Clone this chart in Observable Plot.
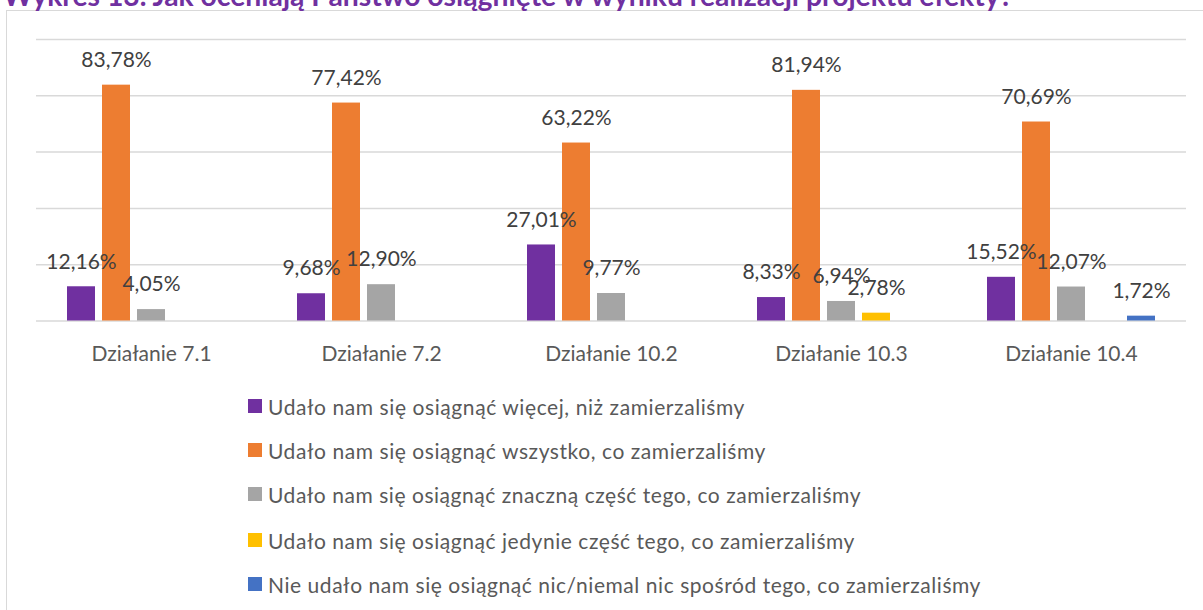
<!DOCTYPE html>
<html>
<head>
<meta charset="utf-8">
<script src="https://cdn.jsdelivr.net/npm/d3@7"></script>
<script src="https://cdn.jsdelivr.net/npm/@observablehq/plot@0.6"></script>
<style>
  html, body { margin: 0; padding: 0; background: #fff; width: 1203px; height: 610px; overflow: hidden; }
  body { position: relative; font-family: Lato, "Noto Sans", sans-serif; }
  #frame { position: absolute; left: 6px; top: 10px; width: 1400px; height: 800px; border-left: 1.5px solid #d9d9d9; border-top: 1.5px solid #d9d9d9; }
  #title { position: absolute; left: 3px; top: -10px; white-space: nowrap; color: #7030A0; font-weight: 700; font-size: 24px; }
  #chart { position: absolute; left: 0; top: 0; }
  .lg-row { position: absolute; left: 248px; height: 28px; display: flex; align-items: center; color: #595959; font-size: 21px; white-space: nowrap; }
  .lg-sw { width: 14px; height: 14px; margin-right: 6px; flex: none; }
</style>
</head>
<body>
<div id="frame"></div>
<div id="title"><span id="titleText">Wykres 13. Jak oceniają Państwo osiągnięte w wyniku realizacji projektu efekty?</span><span id="bl" style="display:inline-block;width:0;height:0"></span></div>
<div id="chart"></div>
<div id="legend"></div>
<script>
const categories = ["Działanie 7.1", "Działanie 7.2", "Działanie 10.2", "Działanie 10.3", "Działanie 10.4"];
const seriesNames = [
  "Udało nam się osiągnąć więcej, niż zamierzaliśmy",
  "Udało nam się osiągnąć wszystko, co zamierzaliśmy",
  "Udało nam się osiągnąć znaczną część tego, co zamierzaliśmy",
  "Udało nam się osiągnąć jedynie część tego, co zamierzaliśmy",
  "Nie udało nam się osiągnąć nic/niemal nic spośród tego, co zamierzaliśmy"
];
const seriesColors = ["#7030A0", "#ED7D31", "#A5A5A5", "#FFC000", "#4472C4"];
const valWiecej   = [12.16, 9.68, 27.01, 8.33, 15.52];
const valWszystko = [83.78, 77.42, 63.22, 81.94, 70.69];
const valZnaczna  = [4.05, 12.90, 9.77, 6.94, 12.07];
const valJedynie  = [null, null, null, 2.78, null];
const valNic      = [null, null, null, null, 1.72];
const gridTicks = [0, 20, 40, 60, 80, 100];

const seriesValues = [valWiecej, valWszystko, valZnaczna, valJedynie, valNic];
const data = [];
categories.forEach((c, i) => seriesNames.forEach((s, j) => {
  const v = seriesValues[j][i];
  if (v != null) data.push({cat: c, series: s, value: v});
}));
const fmt = v => v.toFixed(2).replace(".", ",") + "%";

const chart = Plot.plot({
  width: 1203,
  height: 380,
  marginLeft: 35,
  marginRight: 16,
  marginTop: 39,
  marginBottom: 59.5,
  style: {fontFamily: "Lato, 'Noto Sans', sans-serif", background: "transparent"},
  fx: {domain: categories, paddingInner: 0, paddingOuter: 0, label: null},
  x: {domain: seriesNames, paddingInner: 0.21, paddingOuter: 0.85, axis: null},
  y: {domain: [0, 100], axis: null},
  color: {domain: seriesNames, range: seriesColors},
  marks: [
    Plot.ruleY(gridTicks, {stroke: "#d9d9d9", strokeWidth: 1.5}),
    Plot.barY(data, {fx: "cat", x: "series", y: "value", fill: "series"}),
    Plot.text(data, {fx: "cat", x: "series", y: "value", text: d => fmt(d.value), dy: -25, fill: "#404040", fontSize: 21}),
    Plot.axisFx({anchor: "bottom", tickSize: 0, tickPadding: 25, fontSize: 21, color: "#595959", label: null})
  ]
});
document.getElementById("chart").appendChild(chart);

// legend
const legend = document.getElementById("legend");
const rowCenters = [406, 450, 494, 540, 584];
const rowWidths = [477, 498, 593, 587, 713];
seriesNames.forEach((s, j) => {
  const row = document.createElement("div");
  row.className = "lg-row";
  row.style.top = (rowCenters[j] - 14) + "px";
  const sw = document.createElement("span");
  sw.className = "lg-sw";
  sw.style.background = seriesColors[j];
  const t = document.createElement("span");
  t.textContent = s;
  row.appendChild(sw); row.appendChild(t);
  legend.appendChild(row);
  const w = t.getBoundingClientRect().width;
  t.style.letterSpacing = ((rowWidths[j] - w) / s.length) + "px";
});

// title: fit width and place baseline (clipped at top like the reference)
const title = document.getElementById("title");
const tt = document.getElementById("titleText");
const w0 = tt.getBoundingClientRect().width;
title.style.fontSize = (24 * 1010 / w0) + "px";
const bl = document.getElementById("bl");
const off = bl.getBoundingClientRect().top - title.getBoundingClientRect().top;
title.style.top = (5.5 - off) + "px";
</script>
</body>
</html>
